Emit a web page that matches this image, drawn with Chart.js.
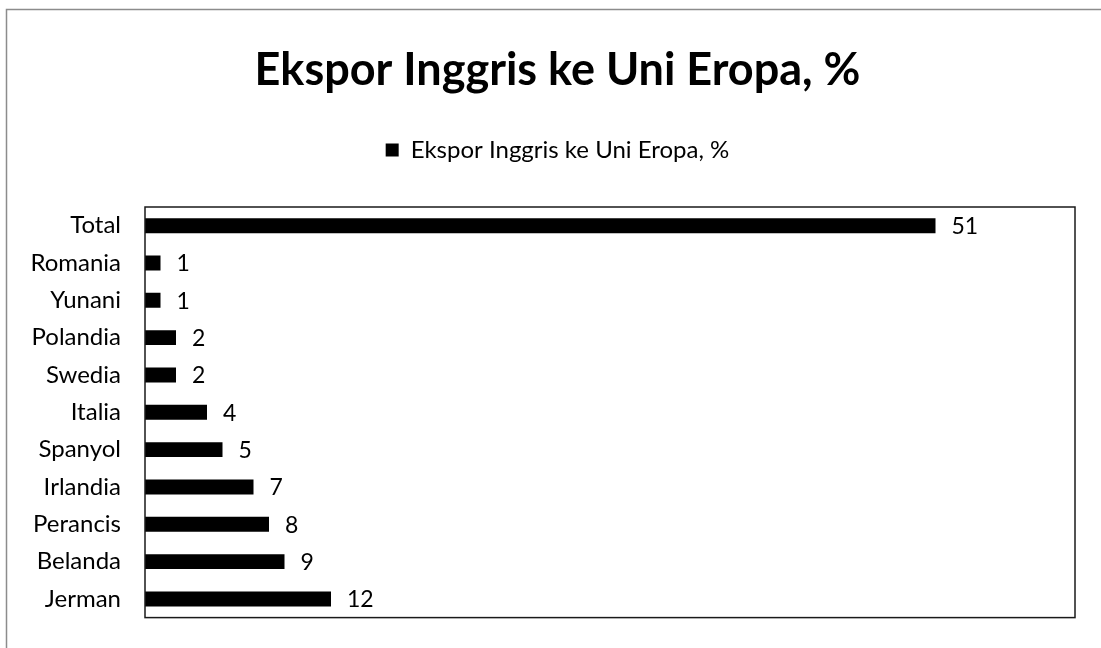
<!DOCTYPE html>
<html>
<head>
<meta charset="utf-8">
<script src="https://cdn.jsdelivr.net/npm/chart.js@4.4.0/dist/chart.umd.min.js"></script>
<style>
  html, body { margin: 0; padding: 0; background: #fff; }
  #wrap { width: 1101px; height: 648px; position: relative; }
</style>
</head>
<body>
<div id="wrap"><canvas id="myChart" width="1101" height="648"></canvas></div>
<script>
const countries = ['Total', 'Romania', 'Yunani', 'Polandia', 'Swedia', 'Italia', 'Spanyol', 'Irlandia', 'Perancis', 'Belanda', 'Jerman'];
const exportShare = [51, 1, 1, 2, 2, 4, 5, 7, 8, 9, 12];
const seriesName = 'Ekspor Inggris ke Uni Eropa, %';

const fontFam = 'Lato, "Open Sans", sans-serif';

// frame, plot box and value labels
const extras = {
    id: 'extras',
    beforeInit(chart) {
        // extra room under the legend
        const leg = chart.legend;
        const origFit = leg.fit;
        leg.fit = function () {
            origFit.call(this);
            this.height = 79;
        };
    },
    afterLayout(chart) {
        // title and legend sit a bit right of the canvas centre
        chart.titleBlock.left += 40;
        chart.legend.left += 20;
        chart.legend.right += 20;
    },
    beforeDraw(chart) {
        const c = chart.ctx;
        c.save();
        c.strokeStyle = '#8c8c8c';
        c.lineWidth = 1.5;
        c.beginPath();
        c.moveTo(6.5, 700);
        c.lineTo(6.5, 9.5);
        c.lineTo(1200, 9.5);
        c.stroke();
        c.restore();
    },
    afterDatasetsDraw(chart) {
        const c = chart.ctx;
        const a = chart.chartArea;
        c.save();
        c.strokeStyle = '#1a1a1a';
        c.lineWidth = 1.5;
        c.strokeRect(a.left, a.top, a.right - a.left, a.bottom - a.top);
        c.fillStyle = '#000';
        c.font = '23px ' + fontFam;
        c.textBaseline = 'middle';
        chart.getDatasetMeta(0).data.forEach((bar, i) => {
            c.fillText(exportShare[i], bar.x + 16, bar.y + 1);
        });
        c.restore();
    }
};

var ctx = document.getElementById('myChart').getContext('2d');
const myChart = new Chart(ctx, {
    type: 'bar',
    data: {
        labels: countries,
        datasets: [{
            label: seriesName,
            data: exportShare,
            backgroundColor: '#000',
            categoryPercentage: 1,
            barPercentage: 0.4,
        }]
    },
    options: {
        indexAxis: 'y',
        responsive: false,
        animation: false,
        layout: { padding: { top: 43, right: 26, bottom: 24, left: 0 } },
        scales: {
            x: { display: false, min: 0, max: 60 },
            y: {
                grid: { display: false },
                border: { display: false },
                ticks: { color: '#000', font: { family: fontFam, size: 24 }, padding: 16 },
                afterFit(scale) { scale.width = 145; }
            }
        },
        plugins: {
            title: {
                display: true,
                text: seriesName,
                color: '#000',
                font: { family: fontFam, size: 45, weight: 'bold' },
                padding: { top: 0, bottom: 31 }
            },
            legend: {
                labels: {
                    color: '#000',
                    font: { family: fontFam, size: 24 },
                    boxWidth: 13,
                    boxHeight: 13,
                    padding: 10
                }
            },
            tooltip: { enabled: false }
        }
    },
    plugins: [extras]
});
</script>
</body>
</html>
